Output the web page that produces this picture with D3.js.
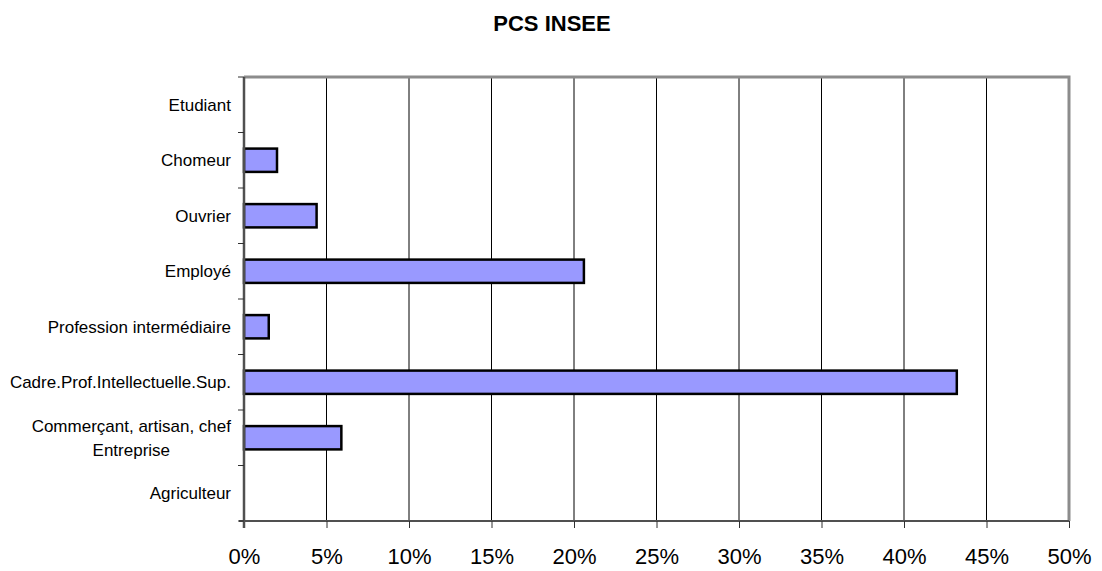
<!DOCTYPE html>
<html>
<head>
<meta charset="utf-8">
<script src="https://cdnjs.cloudflare.com/ajax/libs/d3/7.8.5/d3.min.js"></script>
<style>
  body { margin: 0; background: #fff; }
  text { font-family: Arial, "Liberation Sans", sans-serif; fill: #000; }
</style>
</head>
<body>
<script>
'use strict';

// categories top to bottom, label lines for wrapped labels
const categories = [
  ["Etudiant"],
  ["Chomeur"],
  ["Ouvrier"],
  ["Employé"],
  ["Profession intermédiaire"],
  ["Cadre.Prof.Intellectuelle.Sup."],
  ["Commerçant, artisan, chef", "Entreprise"],
  ["Agriculteur"]
];
const values = [0, 2.0, 4.4, 20.6, 1.5, 43.2, 5.9, 0]; // percent
const xTicks = [0, 5, 10, 15, 20, 25, 30, 35, 40, 45, 50];
const title = "PCS INSEE";

(function() {
  const width = 1102, height = 571;
  const plotL = 244, plotR = 1069, plotT = 77, plotB = 521;

  const svg = d3.select('body').append('svg')
    .attr('width', width)
    .attr('height', height);

  // title
  svg.append('text')
    .attr('x', 552).attr('y', 31)
    .attr('text-anchor', 'middle')
    .style('font-size', '22px')
    .style('font-weight', 'bold')
    .text(title);

  let xScale = d3.scaleLinear().domain([0, 50]).range([plotL, plotR]);
  let yScale = d3.scaleBand()
    .domain(d3.range(categories.length))
    .range([plotT, plotB])
    .padding(0);

  // vertical gridlines
  svg.append('g').selectAll('line')
    .data(xTicks.slice(1, -1))
    .enter().append('line')
    .attr('x1', (d) => xScale(d)).attr('x2', (d) => xScale(d))
    .attr('y1', plotT).attr('y2', plotB)
    .attr('stroke', '#000').attr('stroke-width', 1);

  // frame top and right in grey
  svg.append('path')
    .attr('d', `M${plotL},${plotT}H${xScale(50)}V${plotB}`)
    .attr('fill', 'none')
    .attr('stroke', '#8c8c8c')
    .attr('stroke-width', 3);

  // bars
  let barH = yScale.bandwidth() * 0.42;
  svg.append('g').selectAll('rect')
    .data(values.map((v, i) => ({ v: v, i: i })).filter((d) => d.v > 0))
    .enter().append('rect')
    .attr('x', xScale(0))
    .attr('y', (d) => yScale(d.i) + (yScale.bandwidth() - barH) / 2)
    .attr('width', (d) => xScale(d.v) - xScale(0))
    .attr('height', barH)
    .attr('fill', '#9999ff')
    .attr('stroke', '#000')
    .attr('stroke-width', 2.5);

  // x axis
  let xAxis = d3.axisBottom(xScale)
    .tickValues(xTicks)
    .tickSize(7)
    .tickPadding(20)
    .tickFormat((d) => d + '%');
  let xg = svg.append('g')
    .attr('transform', `translate(0, ${plotB})`)
    .call(xAxis);
  xg.select('.domain').attr('stroke', '#505050').attr('stroke-width', 2)
    .attr('d', `M${plotL - 5},0H${plotR}`);
  xg.selectAll('.tick line').attr('stroke', '#303030');
  xg.selectAll('.tick text')
    .style('font-size', '22px')
    .style('font-family', 'Arial, "Liberation Sans", sans-serif')
    .attr('dy', '0.71em');

  // y axis: ticks at band boundaries
  let yg = svg.append('g');
  yg.append('line')
    .attr('x1', plotL).attr('x2', plotL)
    .attr('y1', plotT).attr('y2', plotB + 7)
    .attr('stroke', '#505050').attr('stroke-width', 2.5);
  yg.selectAll('.ytick')
    .data(d3.range(categories.length + 1))
    .enter().append('line')
    .attr('x1', plotL - 6).attr('x2', plotL)
    .attr('y1', (d) => plotT + d * yScale.step())
    .attr('y2', (d) => plotT + d * yScale.step())
    .attr('stroke', '#303030').attr('stroke-width', 1);

  // category labels
  const lineH = 24;
  categories.forEach((lines, i) => {
    let cy = yScale(i) + yScale.bandwidth() / 2;
    let txt = svg.append('text').style('font-size', '17px');
    if (lines.length === 1) {
      txt.attr('x', 231).attr('y', cy).attr('dy', '0.35em')
        .attr('text-anchor', 'end').text(lines[0]);
    } else {
      // wrapped label: lines centred within a right-aligned block
      let tmp = svg.append('text').style('font-size', '17px');
      let w = d3.max(lines, (l) => { tmp.text(l); return tmp.node().getComputedTextLength(); });
      tmp.remove();
      let cx = 231 - w / 2;
      lines.forEach((l, k) => {
        txt.append('tspan')
          .attr('x', cx)
          .attr('y', cy + (k - (lines.length - 1) / 2) * lineH)
          .attr('dy', '0.35em')
          .attr('text-anchor', 'middle')
          .text(l);
      });
    }
  });
})();
</script>
</body>
</html>
